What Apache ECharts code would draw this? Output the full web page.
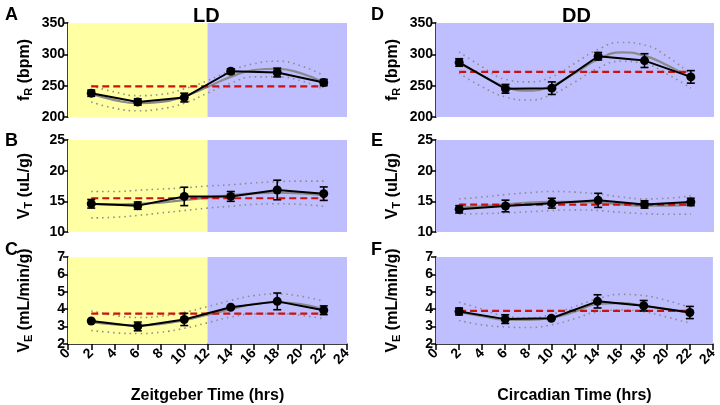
<!DOCTYPE html>
<html>
<head>
<meta charset="utf-8">
<script src="https://cdn.jsdelivr.net/npm/echarts@6/dist/echarts.min.js"></script>
<style>
  html, body { margin: 0; padding: 0; background: #fff; }
  #chart { width: 720px; height: 405px; }
</style>
</head>
<body>
<div id="chart"></div>
<script>
// sampling times (hrs) for the means and for the read-off cosinor fit
const hours = [2, 6, 10, 14, 18, 22]
const fitHours = [2, 4, 6, 8, 10, 12, 14, 16, 18, 20, 22]
const lightPhase = [0, 12]
const darkPhase = [12, 24]

// A: fR, LD
const fRLD = [238, 224, 231, 273, 271, 255]
const fRLDErr = [5, 5, 7, 4, 7, 5]
const fRLDFit = [237, 227, 222, 224, 233, 248, 264, 275, 277, 270, 255]
const fRLDUpper = [250, 240, 234, 236, 245, 258, 274, 285, 289, 282, 266]
const fRLDLower = [224, 214, 210, 213, 222, 238, 254, 264, 264, 258, 244]
const fRLDMesor = 249

// B: VT, LD
const vtLD = [14.6, 14.3, 15.8, 15.8, 16.85, 16.25]
const vtLDErr = [0.7, 0.6, 1.5, 0.8, 1.6, 1.1]
const vtLDFit = [14.6, 14.5, 14.6, 14.8, 15.2, 15.6, 16.0, 16.3, 16.4, 16.3, 16.0]
const vtLDUpper = [16.6, 16.6, 16.8, 17.0, 17.2, 17.5, 17.7, 18.0, 18.2, 18.3, 18.3]
const vtLDLower = [12.3, 12.4, 12.7, 13.1, 13.5, 13.9, 14.2, 14.5, 14.6, 14.5, 14.2]
const vtLDMesor = 15.5

// C: VE, LD
const veLD = [3.32, 3.01, 3.41, 4.11, 4.45, 3.94]
const veLDErr = [0.05, 0.25, 0.35, 0.05, 0.48, 0.25]
const veLDFit = [3.25, 3.12, 3.07, 3.15, 3.37, 3.68, 4.0, 4.3, 4.4, 4.3, 4.0]
const veLDUpper = [3.9, 3.65, 3.52, 3.6, 3.82, 4.15, 4.5, 4.78, 4.87, 4.75, 4.45]
const veLDLower = [2.78, 2.65, 2.6, 2.68, 2.9, 3.22, 3.55, 3.73, 3.75, 3.65, 3.45]
const veLDMesor = 3.74

// D: fR, DD
const fRDD = [287, 245, 246, 297, 290, 264]
const fRDDErr = [6, 7, 10, 6, 11, 10]
const fRDDFit = [286, 266, 248, 242, 250, 270, 292, 303, 298, 282, 262]
const fRDDUpper = [304, 280, 260, 256, 264, 286, 308, 319, 315, 296, 268]
const fRDDLower = [270, 248, 232, 227, 236, 256, 278, 289, 285, 268, 246]
const fRDDMesor = 272

// E: VT, DD
const vtDD = [13.7, 14.24, 14.7, 15.16, 14.5, 14.9]
const vtDDErr = [0.6, 0.95, 0.8, 1.15, 0.6, 0.6]
const vtDDFit = [14.0, 14.2, 14.5, 14.8, 14.9, 14.9, 14.8, 14.5, 14.3, 14.3, 14.5]
const vtDDUpper = [15.4, 15.7, 16.1, 16.4, 16.6, 16.5, 16.2, 15.7, 15.4, 15.5, 15.9]
const vtDDLower = [12.9, 13.0, 13.1, 13.3, 13.5, 13.6, 13.5, 13.2, 13.0, 12.9, 12.9]
const vtDDMesor = 14.45

// F: VE, DD
const veDD = [3.87, 3.43, 3.48, 4.45, 4.2, 3.81]
const veDDErr = [0.2, 0.25, 0.05, 0.38, 0.3, 0.35]
const veDDFit = [3.85, 3.6, 3.4, 3.38, 3.5, 3.85, 4.3, 4.35, 4.2, 4.0, 3.8]
const veDDUpper = [4.4, 4.0, 3.6, 3.5, 3.7, 4.15, 4.6, 4.85, 4.78, 4.5, 4.1]
const veDDLower = [3.35, 3.1, 2.98, 2.95, 3.1, 3.45, 3.85, 3.95, 3.85, 3.55, 3.2]
const veDDMesor = 3.9

const YELLOW = '#ffffa3'
const BLUE = '#bfbfff'
const FONT = 'Liberation Sans'

const panels = [
  { mean: fRLD, err: fRLDErr, fit: fRLDFit, up: fRLDUpper, lo: fRLDLower, mesor: fRLDMesor, ld: true, min: 200, max: 350, step: 50, name: '{a|f}{s|R}{a| (bpm)}' },
  { mean: vtLD, err: vtLDErr, fit: vtLDFit, up: vtLDUpper, lo: vtLDLower, mesor: vtLDMesor, ld: true, min: 10, max: 25, step: 5, name: '{a|V}{s|T}{a| (uL/g)}' },
  { mean: veLD, err: veLDErr, fit: veLDFit, up: veLDUpper, lo: veLDLower, mesor: veLDMesor, ld: true, min: 2, max: 7, step: 1, name: '{a|V}{s|E}{a| (mL/min/g)}', xName: 'Zeitgeber Time (hrs)' },
  { mean: fRDD, err: fRDDErr, fit: fRDDFit, up: fRDDUpper, lo: fRDDLower, mesor: fRDDMesor, ld: false, min: 200, max: 350, step: 50, name: '{a|f}{s|R}{a| (bpm)}' },
  { mean: vtDD, err: vtDDErr, fit: vtDDFit, up: vtDDUpper, lo: vtDDLower, mesor: vtDDMesor, ld: false, min: 10, max: 25, step: 5, name: '{a|V}{s|T}{a| (uL/g)}' },
  { mean: veDD, err: veDDErr, fit: veDDFit, up: veDDUpper, lo: veDDLower, mesor: veDDMesor, ld: false, min: 2, max: 7, step: 1, name: '{a|V}{s|E}{a| (mL/min/g)}', xName: 'Circadian Time (hrs)' }
]

const rows = [
  { top: 23, height: 94 },
  { top: 140, height: 92 },
  { top: 257, height: 91 }
]
const cols = [
  { left: 68, width: 279 },
  { left: 436, width: 278 }
]

const grid = []
const xAxis = []
const yAxis = []
const series = []

panels.forEach((p, i) => {
  const col = cols[Math.floor(i / 3)]
  const row = rows[i % 3]
  const bottom = i % 3 === 2
  grid.push({ left: col.left, width: col.width, top: row.top, height: row.height })

  xAxis.push({
    gridIndex: i, type: 'value', min: 0, max: 24, interval: 2,
    show: bottom,
    splitLine: { show: false },
    axisLine: { lineStyle: { color: '#000', width: 1.5 } },
    axisTick: { length: 6, lineStyle: { color: '#000', width: 1.5 } },
    axisLabel: { rotate: 45, color: '#000', fontWeight: 'bold', fontSize: 14, fontFamily: FONT, margin: 7 },
    name: p.xName || '', nameLocation: 'middle', nameGap: 44,
    nameTextStyle: { color: '#000', fontWeight: 'bold', fontSize: 16, fontFamily: FONT }
  })

  yAxis.push({
    gridIndex: i, type: 'value', min: p.min, max: p.max, interval: p.step,
    splitLine: { show: false },
    axisLine: { show: true, lineStyle: { color: '#000', width: 1.5 } },
    axisTick: { show: true, length: 5, lineStyle: { color: '#000', width: 1.5 } },
    axisLabel: { color: '#000', fontWeight: 'bold', fontSize: 14, fontFamily: FONT, margin: 3 },
    name: p.name, nameLocation: 'middle', nameGap: 33, nameRotate: 90,
    nameTextStyle: {
      rich: {
        a: { fontSize: 16, fontWeight: 'bold', color: '#000', fontFamily: FONT, lineHeight: 20 },
        s: { fontSize: 11, fontWeight: 'bold', color: '#000', fontFamily: FONT, padding: [8, 0, 0, 0], lineHeight: 20 }
      }
    }
  })

  // background shading (light / dark phase)
  const areas = p.ld
    ? [[{ xAxis: lightPhase[0], itemStyle: { color: YELLOW } }, { xAxis: lightPhase[1] }],
       [{ xAxis: darkPhase[0], itemStyle: { color: BLUE } }, { xAxis: darkPhase[1] }]]
    : [[{ xAxis: lightPhase[0], itemStyle: { color: BLUE } }, { xAxis: darkPhase[1] }]]
  series.push({
    type: 'line', xAxisIndex: i, yAxisIndex: i, data: [], silent: true, z: 0,
    markArea: { silent: true, itemStyle: { opacity: 1 }, data: areas }
  })

  const band = arr => ({
    type: 'line', xAxisIndex: i, yAxisIndex: i, smooth: 0.5, symbol: 'none', silent: true, z: 2,
    lineStyle: { color: '#8c8c8c', width: 1.6, type: [1.5, 4] },
    data: fitHours.map((h, k) => [h, arr[k]])
  })
  series.push(band(p.up))
  series.push(band(p.lo))

  // cosinor fit
  series.push({
    type: 'line', xAxisIndex: i, yAxisIndex: i, smooth: 0.5, symbol: 'none', silent: true, z: 3,
    lineStyle: { color: '#8a8a8a', width: 2.2 },
    data: fitHours.map((h, k) => [h, p.fit[k]])
  })

  // mesor
  series.push({
    type: 'line', xAxisIndex: i, yAxisIndex: i, symbol: 'none', silent: true, z: 4,
    lineStyle: { color: '#cc1111', width: 2.2, type: [7, 4] },
    data: [[hours[0], p.mesor], [hours[hours.length - 1], p.mesor]]
  })

  // group means
  series.push({
    type: 'line', xAxisIndex: i, yAxisIndex: i, symbol: 'circle', symbolSize: 9, silent: true, z: 6,
    itemStyle: { color: '#000' },
    lineStyle: { color: '#000', width: 2 },
    data: hours.map((h, k) => [h, p.mean[k]])
  })

  // SEM error bars
  series.push({
    type: 'custom', xAxisIndex: i, yAxisIndex: i, silent: true, z: 7,
    encode: { x: 0, y: 1 },
    data: hours.map((h, k) => [h, p.mean[k], p.err[k]]),
    renderItem: (params, api) => {
      const x = api.value(0)
      const y = api.value(1)
      const e = api.value(2)
      const hi = api.coord([x, y + e])
      const lo = api.coord([x, y - e])
      const w = 4
      const st = { stroke: '#000', lineWidth: 1.6 }
      return {
        type: 'group',
        children: [
          { type: 'line', shape: { x1: hi[0], y1: hi[1], x2: lo[0], y2: lo[1] }, style: st },
          { type: 'line', shape: { x1: hi[0] - w, y1: hi[1], x2: hi[0] + w, y2: hi[1] }, style: st },
          { type: 'line', shape: { x1: lo[0] - w, y1: lo[1], x2: lo[0] + w, y2: lo[1] }, style: st }
        ]
      }
    }
  })
})

const letter = (text, left, top) => ({
  text, left, top,
  textStyle: { fontSize: 18, fontWeight: 'bold', color: '#000', fontFamily: FONT }
})

const option = {
  animation: false,
  title: [
    { text: 'LD', left: 188, top: 1, textStyle: { fontSize: 20, fontWeight: 'bold', color: '#000', fontFamily: FONT } },
    { text: 'DD', left: 557, top: 1, textStyle: { fontSize: 20, fontWeight: 'bold', color: '#000', fontFamily: FONT } },
    letter('A', 0, 1), letter('B', 0, 127), letter('C', 0, 236),
    letter('D', 366, 1), letter('E', 366, 127), letter('F', 366, 236)
  ],
  grid, xAxis, yAxis, series
}

const myChart = echarts.init(document.getElementById('chart'))
myChart.setOption(option)
window.addEventListener('resize', function () {
  myChart.resize()
})
</script>
</body>
</html>
